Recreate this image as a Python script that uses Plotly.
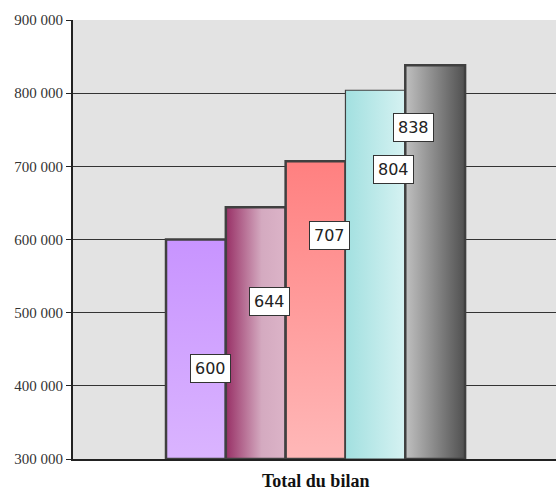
import plotly.graph_objects as go

category = "Total du bilan"
values = [600000, 644000, 707000, 804000, 838000]
labels = ["600", "644", "707", "804", "838"]
# gradient direction and colour stops for each bar
grad_type = ["vertical", "horizontal", "vertical", "horizontal", "horizontal"]
grad_colors = [
    [[0, "#dab4ff"], [1, "#c894ff"]],
    [[0, "#983066"], [0.6, "#d4aac0"], [1, "#dcb4c8"]],
    [[0, "#ffb8b8"], [1, "#ff8080"]],
    [[0, "#a2e0e0"], [1, "#d6f2f2"]],
    [[0, "#c0c0c0"], [1, "#505050"]],
]
outline_w = [2.5, 2.5, 2.5, 1.2, 2.5]
# label anchor positions (data units)
label_y = [424000, 515000, 605000, 696000, 753000]
label_dx = [0.24, 0.23, 0.23, 0.30, -0.37]

y_min, y_max = 300000, 900000
x_lo, x_hi = -2.055, 6.02

fig = go.Figure()
for i, v in enumerate(values):
    xs = [i - 0.5, i - 0.5, i + 0.5, i + 0.5, i - 0.5]
    ys = [y_min, v, v, y_min, y_min]
    fig.add_trace(go.Scatter(
        x=xs, y=ys, mode="lines", fill="toself",
        fillgradient=dict(type=grad_type[i], colorscale=grad_colors[i]),
        line=dict(color="#404040", width=outline_w[i]),
        hoverinfo="skip", showlegend=False,
    ))

for i, (t, ly) in enumerate(zip(labels, label_y)):
    fig.add_annotation(
        x=i + label_dx[i], y=ly, xref="x", yref="y", text=t, showarrow=False,
        font=dict(family="DejaVu Sans", size=16, color="#222"),
        bgcolor="white", bordercolor="#333", borderwidth=1, borderpad=4,
    )

fig.add_annotation(
    x=0.502, y=-0.022, xref="paper", yref="paper", yanchor="top",
    text="<b>%s</b>" % category, showarrow=False,
    font=dict(family="Liberation Serif", size=18, color="#111"),
)

fig.update_layout(
    width=556, height=493,
    margin=dict(l=73, r=0, t=20, b=34),
    paper_bgcolor="white", plot_bgcolor="#e3e3e3",
    separators=", ",
    showlegend=False,
)
fig.update_xaxes(
    range=[x_lo, x_hi], showticklabels=False, showgrid=False, zeroline=False,
    showline=True, linecolor="#222", linewidth=2, ticks="",
)
fig.update_yaxes(
    range=[y_min, y_max], dtick=100000, tickformat=",.0f",
    showgrid=True, gridcolor="#333", gridwidth=1, zeroline=False,
    showline=True, linecolor="#222", linewidth=2,
    ticks="outside", ticklen=5, tickcolor="#222", tickwidth=1,
    tickfont=dict(family="Liberation Serif", size=15, color="#333"),
)
fig.write_html("out.html")
